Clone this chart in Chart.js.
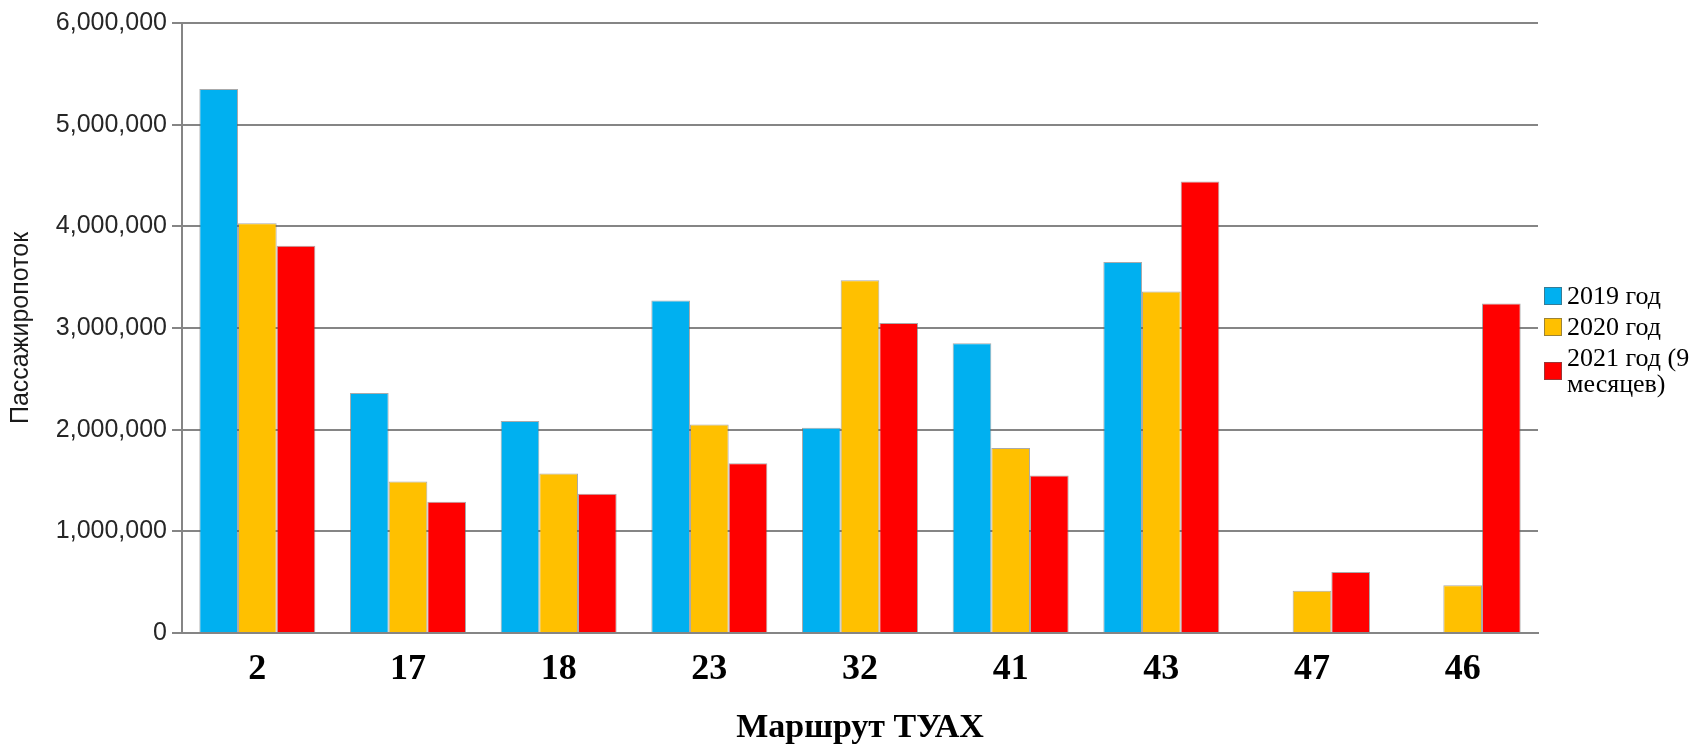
<!DOCTYPE html>
<html lang="ru">
<head>
<meta charset="utf-8">
<title>Пассажиропоток по маршрутам ТУАХ</title>
<script src="https://cdn.jsdelivr.net/npm/chart.js@4/dist/chart.umd.min.js"></script>
<style>
  html, body { margin: 0; padding: 0; background: #ffffff; }
  #wrap { position: relative; width: 1698px; height: 745px; }
</style>
</head>
<body>
<div id="wrap"><canvas id="chart" width="1698" height="745"></canvas></div>
<script>
// Маршруты ТУАХ
const routes = ['2', '17', '18', '23', '32', '41', '43', '47', '46'];

// Пассажиропоток, человек
const pax2019 = [5350000, 2360000, 2085000, 3270000, 2020000, 2850000, 3650000, 0, 0];
const pax2020 = [4030000, 1490000, 1570000, 2050000, 3470000, 1820000, 3360000, 415000, 470000];
const pax2021 = [3810000, 1290000, 1370000, 1670000, 3050000, 1550000, 4440000, 600000, 3240000];

const seriesNames = ['2019 год', '2020 год', '2021 год (9 месяцев)'];
const seriesColors = ['#00b0f0', '#ffc000', '#ff0000'];

const yTicks = [0, 1000000, 2000000, 3000000, 4000000, 5000000, 6000000];

const gridColor = '#858585';
const sansFont = "'Liberation Sans', Arial, sans-serif";
const serifFont = "'Liberation Serif', 'Times New Roman', serif";

// Legend drawn to the right of the plot, wrapping long labels
const sideLegend = {
  id: 'sideLegend',
  afterDraw(chart) {
    const ctx = chart.ctx;
    const area = chart.chartArea;
    const boxX = area.right + 6;
    const textX = area.right + 29;
    const maxW = chart.width - textX - 2;
    const lineH = 26;
    const gap = 5;
    const box = 18;
    ctx.save();
    ctx.font = '26px ' + serifFont;
    ctx.textBaseline = 'middle';
    ctx.textAlign = 'left';
    ctx.fillStyle = '#000';

    // wrap labels into lines
    const items = chart.data.datasets.map(ds => {
      const words = ds.label.split(' ');
      const lines = [];
      let cur = '';
      words.forEach(w => {
        const test = cur ? cur + ' ' + w : w;
        if (cur && ctx.measureText(test).width > maxW) { lines.push(cur); cur = w; }
        else cur = test;
      });
      if (cur) lines.push(cur);
      return { lines, color: ds.backgroundColor };
    });

    let y = 284;
    items.forEach(it => {
      const h = it.lines.length * lineH;
      const cy = y + h / 2 - 1;
      ctx.fillStyle = it.color;
      ctx.fillRect(boxX, cy - box / 2, box, box);
      ctx.strokeStyle = 'rgba(90,90,90,0.6)';
      ctx.lineWidth = 1;
      ctx.strokeRect(boxX + 0.5, cy - box / 2 + 0.5, box - 1, box - 1);
      ctx.fillStyle = '#000';
      it.lines.forEach((ln, i) => ctx.fillText(ln, textX, y + lineH * i + lineH / 2));
      y += h + gap;
    });
    ctx.restore();
  }
};

const datasets = [pax2019, pax2020, pax2021].map((vals, i) => ({
  label: seriesNames[i],
  data: vals,
  backgroundColor: seriesColors[i],
  borderColor: 'rgba(100,100,100,0.55)',
  borderWidth: 1,
  borderSkipped: 'bottom',
  categoryPercentage: 0.77,
  barPercentage: 1.0
}));

new Chart(document.getElementById('chart'), {
  type: 'bar',
  data: { labels: routes, datasets },
  options: {
    responsive: false,
    animation: false,
    devicePixelRatio: 1,
    layout: { padding: { top: 23, right: 160, bottom: 0, left: 0 } },
    plugins: {
      legend: { display: false },
      tooltip: { enabled: false }
    },
    scales: {
      x: {
        grid: { display: false, drawTicks: false },
        border: { display: true, color: gridColor, width: 2 },
        ticks: {
          color: '#000',
          padding: 15,
          font: { family: serifFont, size: 36, weight: 'bold' }
        },
        title: {
          display: true,
          text: 'Маршрут ТУАХ',
          color: '#000',
          padding: 0,
          font: { family: serifFont, size: 34, weight: 'bold', lineHeight: 1 }
        },
        afterFit(scale) { scale.height = 112; }
      },
      y: {
        min: 0,
        max: 6000000,
        afterBuildTicks(scale) { scale.ticks = yTicks.map(v => ({ value: v })); },
        grid: { color: gridColor, lineWidth: 2, tickLength: 10, drawTicks: true },
        border: { display: true, color: gridColor, width: 2 },
        ticks: {
          color: '#262626',
          padding: 5,
          font: { family: sansFont, size: 25 },
          callback: v => Number(v).toLocaleString('en-US')
        },
        title: {
          display: true,
          text: 'Пассажиропоток',
          color: '#1a1a1a',
          padding: { top: 6, bottom: 0 },
          font: { family: sansFont, size: 25 }
        },
        afterFit(scale) { scale.width = 182; }
      }
    }
  },
  plugins: [sideLegend]
});
</script>
</body>
</html>
